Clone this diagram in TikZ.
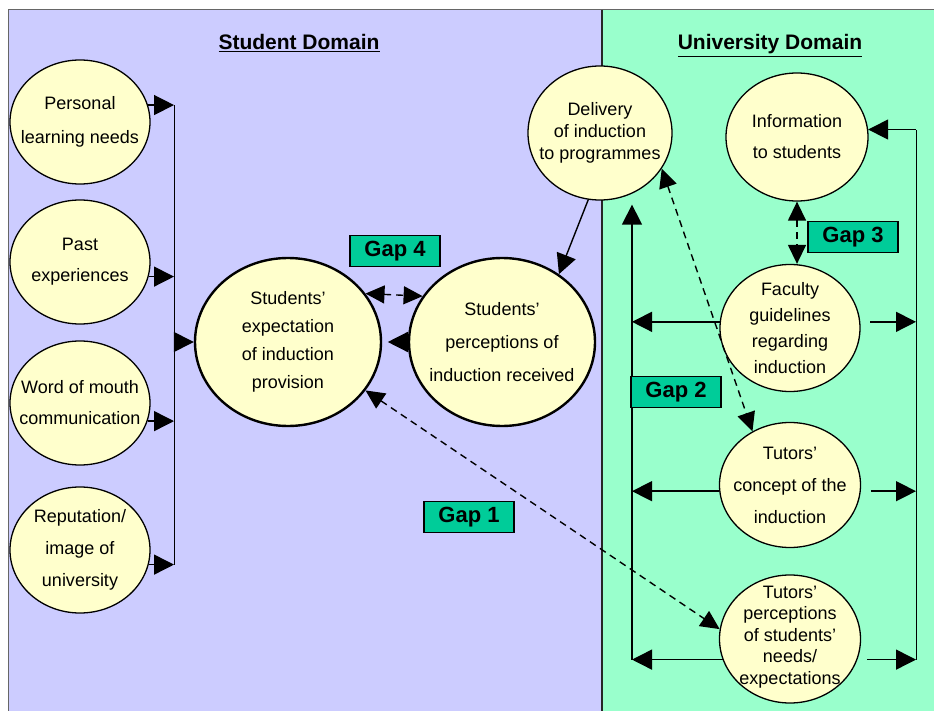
\documentclass[tikz,border=0pt]{standalone}
\usepackage{fontspec}
\setmainfont{Liberation Sans}
\usetikzlibrary{shapes.geometric,arrows.meta}
\definecolor{studbg}{HTML}{CCCCFF}
\definecolor{unibg}{HTML}{99FFCC}
\definecolor{ovalfill}{HTML}{FFFFCC}
\definecolor{gapfill}{HTML}{00CC99}
\newcommand{\ofont}[1]{\fontsize{18}{#1}\selectfont}

\begin{document}
\begin{tikzpicture}[x=1pt,y=-1pt,
    oval/.style={ellipse, draw, fill=ovalfill, line width=1.3pt, inner sep=0pt},
    bigoval/.style={oval, line width=2.4pt},
    otext/.style={align=center, inner sep=0pt},
    gapbox/.style={draw, fill=gapfill, line width=1.6pt, minimum width=90pt, minimum height=31pt,
        inner sep=0pt, font=\fontsize{22}{24}\selectfont\bfseries},
    arr/.style={-{Triangle[length=20pt,width=20pt]}, line width=1.4pt},
    gaparr/.style={{Triangle[length=19pt,width=18pt]}-{Triangle[length=19pt,width=18pt]},
        dash pattern=on 7pt off 5pt, line width=1.4pt},
    bus/.style={line width=1pt}]
                \useasboundingbox (0,0) rectangle (934,711);
                \fill[studbg] (8,10) rectangle (602,711);
                \fill[unibg] (602,10) rectangle (934,711);
                \draw[black!60, line width=1pt] (8,711) -- (8,10) -- (934,10);
                \draw[black!85, line width=2pt] (602,10) -- (602,711);
                \node[anchor=base, font=\fontsize{21}{24}\selectfont\bfseries] (sdom) at (299,50) {\underline{Student Domain}};
                \node[anchor=base, font=\fontsize{21}{24}\selectfont\bfseries] (udom) at (770,50) {\underline{University Domain}};

                % student side
                \node[oval, minimum width=140pt, minimum height=124pt] (pers) at (80,122) {};
                \node[otext, font=\ofont{34}] at (pers) {Personal\\learning needs};
                \node[oval, minimum width=140pt, minimum height=124pt] (past) at (80,262) {};
                \node[otext, font=\ofont{31}] at (past) {Past\\experiences};
                \node[oval, minimum width=140pt, minimum height=124pt] (word) at (80,403) {};
                \node[otext, font=\ofont{31}] at (word) {Word of mouth\\communication};
                \node[oval, minimum width=140pt, minimum height=126pt] (rep) at (80,550) {};
                \node[otext, font=\ofont{32}] at (rep) {Reputation/\\image of\\university};
                \node[bigoval, minimum width=186pt, minimum height=168pt] (exp) at (288,342) {};
                \node[otext, font=\ofont{28}] at (exp) {Students’\\expectation\\of induction\\provision};
                \node[bigoval, minimum width=186pt, minimum height=168pt] (perc) at (502,342) {};
                \node[otext, font=\ofont{33}] at (perc) {Students’\\perceptions of\\induction received};

                % university side
                \node[oval, minimum width=144pt, minimum height=134pt] (deliv) at (600,133) {};
                \node[otext, font=\ofont{22}] at (deliv) {Delivery\\of induction\\to programmes};
                \node[oval, minimum width=142pt, minimum height=128pt] (info) at (797,137) {};
                \node[otext, font=\ofont{31}] at (info) {Information\\to students};
                \node[oval, minimum width=140pt, minimum height=127pt] (fac) at (790,328) {};
                \node[otext, font=\ofont{26}] at (fac) {Faculty\\guidelines\\regarding\\induction};
                \node[oval, minimum width=141pt, minimum height=125pt] (tco) at (790,485) {};
                \node[otext, font=\ofont{32}] at (tco) {Tutors’\\concept of the\\induction};
                \node[oval, minimum width=141pt, minimum height=128pt] (tpe) at (790,639) {};
                \node[otext, font=\ofont{21.5}] at ([yshift=2pt]tpe) {Tutors’\\perceptions\\of students’\\needs/\\expectations};

                \coordinate (lbus) at (174,0);
                \coordinate (ubl) at (632,0);
                \coordinate (ubr) at (916,0);

                \draw[arr] (pers.14) -- (pers.14 -| lbus);
                \draw[arr] (past.-12) -- (past.-12 -| lbus);
                \draw[arr] (word.-15) -- (word.-15 -| lbus);
                \draw[arr] (rep.-12) -- (rep.-12 -| lbus);
                \draw[bus] (pers.14 -| lbus) -- (rep.-12 -| lbus);
                \draw[arr] (lbus |- exp.west) -- (exp.west);
                \draw[arr] (perc.west) -- ++(-20,0);
                \draw[arr] (deliv.260) -- (perc.50);

                \draw[arr, shorten >=4pt] (tpe.197 -| ubl) -- (deliv.south -| ubl);
                \draw[arr] (fac.175) -- (fac.175 -| ubl);
                \draw[arr] (tco.185) -- (tco.185 -| ubl);
                \draw[arr] (tpe.197) -- (tpe.197 -| ubl);
                \draw[arr, shorten <=10pt] (fac.5) -- (fac.5 -| ubr);
                \draw[arr, shorten <=10pt] (tco.-5) -- (tco.-5 -| ubr);
                \draw[arr, shorten <=10pt] (tpe.-17) -- (tpe.-17 -| ubr);
                \draw[bus] (tpe.-17 -| ubr) -- (info.6 -| ubr);
                \draw[arr] (info.6 -| ubr) -- (info.6);

                \draw[gaparr] (exp.32) -- (perc.150);
                \draw[gaparr] (info.south) -- (info.south |- fac.north);
                \draw[gaparr] (deliv.-30) -- (tco.125);
                \draw[gaparr] (exp.-32) -- (tpe.172);

                \node[gapbox] (gap4) at (395,251) {Gap 4};
                \node[gapbox] (gap3) at (853,237) {Gap 3};
                \node[gapbox] (gap2) at (676,392) {Gap 2};
                \node[gapbox] (gap1) at (469,517) {Gap 1};
            \end{tikzpicture}
\end{document}
